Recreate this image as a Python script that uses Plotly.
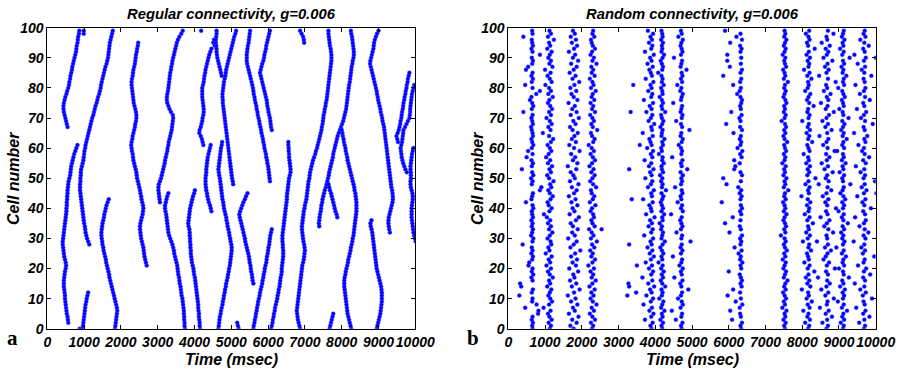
import plotly.graph_objects as go

# ---------------- DATA ----------------
# Spike times are given in units of 10 ms; each list holds one spike per
# consecutive cell, beginning at the listed start cell.
TIME_UNIT_MS = 10
x_ticks = list(range(0, 10001, 1000))
x_tick_labels = [str(v) for v in x_ticks]
y_ticks = list(range(0, 101, 10))

# Regular connectivity (panel a): travelling waves
reg_A = (2, [57,56,55,53,52,51,50,49,48,48,47,46,45,45,45,46,47,48,50,51,50,48,46,45,44,43,42,42,43,44,45,46,47,48,49,50,51,52,52,53,53,54,54,55,55,56,57,58,60,62,63,64,65,67,69,71,73,76,79,82])
reg_B = (67, [55,53,51,49,47,45,44,44,45,47,49,52,54,57,59,60,62,63,65,67,68,70,72,74,76,78,79,80,82,83,84,86,87])
reg_B2 = (98, [99,99])
reg_C = (0, [96,97,98,99,100,101,102,103,104,106,107,109,111])
reg_C2 = (0, [88])
reg_D = (28, [114,111,108,106,104,103,102,100,99,98,97,96,95,94,93,92,91,90,89,89,89,90,90,91,91,92,94,96,98,99,100,101,103,104,106,108,110,112,114,116,118,120,122,125,127,129,131,134,136,138,141,143,145,146,148,150,152,154,156,158,161,163,165,166,167,168,169,170,172,174,176,178])
reg_E = (0, [184,185,186,187,188,189,190,189,187,185,183,181,179,177,175,173,171,169,168,166,164,162,160,159,157,155,153,152,150,149,148,147,147,148,149,150,152,154,155,157,159,161,164,167])
reg_F = (21, [270,268,266,264,263,262,261,259,257,255,254,253,252,252,253,255,257,259,260,261,260,258,256,255,253,252,250,248,246,244,243,242,240,238,236,234,233,232,230,229,228,229,231,232,234,236,238,239,241,242,242,241,239,237,235,234,233,232,231,230,229,229,230,232,233,234,236,238,239,240,241,243,244,246,247])
reg_G_up = (42, [306,305,304,303,302,302,303,306,309,311,313,315,317,319,320,322,324,326,327,329,330,332,334,336,338,339,340,341,342,341,336,332,329,326,325,325,326,328,329,330,331,332,333,334,336,337,339,340,342,344,346,348,350,352,355,359,364,368])
reg_G_down = (0, [374,373,373,372,372,371,371,370,369,368,367,365,364,363,362,360,359,358,356,355,354,353,351,349,347,345,344,342,340,337,334,331,329,328,327,326,325,324,323,321,320,320,322,324,326,329])
reg_H = (0, [415,414,414,413,412,412,411,410,410,409,408,407,406,405,404,403,402,401,399,398,397,395,393,392,391,390,390,389,389,388,388,387,387,386,384,383,384,385,386,387,388,390,392,394,396,399,401])
reg_I = (99, [418])
reg_J = (61, [424,422,420,417,413,414,417,419,421,422,424,425,425,424,423,422,421,421,421,421,423,425,426,427,429,430,432,434,436,438,440,443,446])
reg_K = (39, [446,444,442,439,437,435,434,432,431,430,430,430,431,432,432,433,434,435,436,438,440,442,444])
reg_K2 = (94, [455,451,453])
reg_L1 = (84, [474,472,470,468,466,464,462,461,460,460,459,458,458,459,460,460])
reg_L2 = (48, [505,504,502,501,500,499,498,497,496,495,494,493,492,491,490,489,488,487,486,485,484,483,482,481,480,479,478,477,477,476,476,477,478,479,480,482,484,485,486,488,490,492,494,496,498,500,502,504,506,508,511,513])
reg_M = (0, [465,466,467,468,469,471,472,474,476,477,479,480,482,483,485,486,488,490,491,493,494,496,497,498,499,500,501,501,500,498,497,495,494,492,490,489,487,486,484,482,480,479,478,476,475,474,473,472,471,470,469,467,466,465,466,467,468,469,470,471,472,474,475])
reg_Z = (0, [520,518,516])
reg_N = (15, [560,558,557,556,554,553,552,550,549,548,546,544,542,540,538,537,535,533,531,529,527,525,523,522,524,527,530,533,537,540,544])
reg_O = (49, [605,604,603,602,601,600,598,597,595,594,592,590,589,587,586,584,582,581,579,577,576,574,572,571,569,568,566,564,563,561,560,559,557,555,553,551,549,547,545,543,542,542,542,543,544,545,547,548,549,550,551])
reg_P = (66, [610,608,607,606,605,603,601,600,598,597,596,594,592,590,588,586,584,582,580,578,580,582,584,587,589,590,592,594,595,597,599,601,603,605])
reg_Q = (0, [560,561,563,564,566,567,569,570,572,573,575,577,578,580,582,584,585,587,588,590,591,593,595,596,597,599,600,601,603,604,605,606,608,610])
reg_R = (0, [608,610,612,613,615,616,618,619,621,623,625,626,628,629,631,632,633,634,636,637,637,638,639,640,641,641,641,640,640,639,639,639,640,641,642,643,644,645,646,647,648,649,650,651,651,652,653,654,655,656,657,659,661,661,660,659,658,657,657,656,656,655,655])
reg_S = (0, [687,685,683,681,680,679,678,679,680,681,682,683,684,685,686,687,688,689,690,691,692,693,695,697,698,699,700,699,698,696,695,694,693,692,692,693,694,695,696,697,699,700,702,704,705,706,707,708,709,710,712,713,714,716,718,720,722,725,728,730,733,735,737,739,741,743,745,746,748,749,750,751,753,754,756,757,759,760,761,762,763,764,765,766,767,768,769,770,771,772,772,772,771,770,768,767,766,765,764,764])
reg_S2 = (95, [698,697,695,691,687])
reg_T_up = (67, [798,801,804,806,808,810,812,813,814,815,816,817,818,819,820,822,823,824,825,826,827,829,830,832,833,833,832,831,830,829,828,826,825])
reg_T_left = (34, [739,738,739,740,741,743,744,745,747,748,750,752,754,757,759,761,763,765,766,768,770,772,774,776,777,779,781,783,785,787,789,792,795])
reg_T_right = (0, [826,824,822,820,818,816,815,814,813,812,811,810,809,808,807,807,807,808,810,811,813,815,817,818,820,822,824,825,827,829,830,832,833,834,835,836,837,838,839,840,840,840,840,839,838,837,835,834,832,830,828,826,824,822,820,818,816,815,813,811,810,808,806,805,803,802,800])
reg_T_short = (37, [788,786,783,781,779,777,775,773,771,768,766,764])
reg_U = (0, [767,769,771,773,775,777])
reg_V = (0, [895,897,899,901,903,905,906,907,908,909,909,909,909,908,907,905,903,901,899,897,895,894,893,892,891,890,889,888,887,886,885,884,883,881,879,878,881])
reg_W = (32, [931,929,928,927,927,928,930,932,934,936,938,939,939,938,937,935,934,933,932,931,930,929,928,927,926,925,924,923,922,921,920,919,918,917,916,915,913,911,910,908,906,905,903,901,899,898,896,895,893,891,889,887,885,883,881,879,877,878,880,882,884,886,887,888,890,893,896,900])
reg_X1 = (62, [953,951,949,952,955,957,959,960,962,963,964,966,967,968,970,971,973,974,976,977,979,980,982,984])
reg_X2 = (52, [977,973,970,967,965,963,962,961,960,962,964,965,966,967,968,972,976,980,984,985,986,986,987,988,989,990,991,993,995,997])
reg_X4 = (29, [1001,999,997,995,994,993,992,991,990,990,990,990,991,992,993,993,992,990,988,987,987,988,988,988,987,987,988,989,990,991,993,995])

# Random connectivity (panel b): one spike per cell (cells 0..99) per burst column
rnd_c1 = [66,65,67,64,66,81,82,46,77,65,66,30,64,67,35,32,66,63,68,64,66,55,57,65,67,63,66,64,39,66,68,62,65,67,64,66,63,67,65,64,68,66,48,63,65,67,86,90,64,66,62,68,65,37,64,67,63,50,66,54,64,68,65,63,67,66,64,62,67,65,63,66,41,64,68,65,59,63,76,86,66,46,64,67,63,66,48,54,65,67,64,86,66,63,67,65,64,41,66,65]
rnd_c2 = [113,116,110,118,112,108,115,96,111,119,114,109,113,117,106,114,111,121,113,108,116,104,114,110,118,102,112,109,117,115,107,113,120,111,116,108,114,105,97,112,118,110,107,115,121,113,109,117,114,123,111,106,116,112,119,108,114,103,110,117,113,107,116,122,111,94,115,109,118,113,104,116,111,119,114,108,112,121,109,116,111,101,118,113,107,115,100,120,112,116,109,113,118,106,114,111,124,108,116,112]
rnd_c3 = [178,169,186,174,191,165,181,176,188,171,183,162,179,194,173,185,168,180,177,190,166,184,175,187,171,182,196,169,178,186,163,181,174,189,176,170,184,192,167,180,175,188,172,183,165,179,186,173,191,168,181,177,170,185,162,188,176,182,171,194,179,166,184,173,180,189,175,168,183,177,192,170,186,174,181,164,188,178,172,185,169,180,193,175,183,167,178,186,171,190,176,182,165,179,187,173,184,170,181,176]
rnd_c4 = [228,231,225,236,229,222,233,227,240,230,224,232,226,235,221,229,238,227,231,224,233,218,229,236,226,230,223,234,228,241,225,232,227,220,235,229,226,233,231,224,228,237,222,230,234,227,225,239,231,223,229,235,226,232,221,228,236,230,224,233,227,219,231,235,228,225,242,230,226,233,229,223,236,228,231,224,234,227,230,238,225,232,229,222,235,227,231,226,240,229,233,224,228,236,230,227,225,234,229,231]
rnd_c5 = [390,387,393,372,389,395,384,391,368,388,394,376,390,386,397,381,392,365,389,394,383,391,374,388,396,385,392,379,390,387,394,370,389,393,382,391,386,398,375,390,388,384,393,367,391,389,396,380,388,392,373,390,386,395,383,389,371,392,388,394,378,390,387,384,393,366,391,389,397,382,388,392,376,390,385,394,369,389,392,381,390,387,395,374,391,388,384,393,379,390,386,396,372,389,392,383,391,387,394,380]
rnd_c6 = [419,417,421,414,420,418,425,416,419,422,411,418,420,417,427,419,415,421,418,423,416,420,409,419,417,422,418,414,420,426,417,419,421,416,418,412,420,419,424,417,421,418,415,419,422,417,429,418,420,416,419,413,421,418,417,423,419,420,410,418,416,421,419,425,417,418,420,414,419,422,418,416,427,419,417,421,418,412,420,419,416,423,418,420,417,408,419,421,418,415,420,424,417,419,418,421,416,420,419,417]
rnd_c7 = [472,470,474,456,471,473,445,469,475,472,462,470,473,490,471,468,474,452,472,470,475,466,471,473,448,470,474,469,472,496,471,473,458,470,474,471,468,472,443,475,470,473,461,471,469,474,472,454,470,473,471,475,469,487,472,470,474,446,471,473,470,464,472,475,469,471,493,473,470,457,472,474,469,471,473,449,470,472,475,468,471,460,473,470,474,472,485,469,471,473,451,470,474,472,469,471,475,463,472,470]
rnd_c8 = [634,632,636,609,633,631,604,630,637,619,633,597,631,612,635,632,636,633,630,600,634,632,637,631,633,627,635,616,632,634,631,636,602,633,630,590,632,611,634,631,636,633,581,632,635,630,634,626,594,633,585,636,632,615,618,630,615,635,631,637,624,632,634,630,633,613,636,631,593,632,629,635,607,633,631,634,636,632,623,630,633,612,631,634,585,632,636,603,633,596,634,596,632,635,631,604,636,621,632,590]
rnd_c9 = [753,751,755,749,754,752,757,746,753,750,756,752,748,755,751,754,760,750,753,756,749,752,755,747,754,751,758,753,750,755,752,742,754,751,756,753,749,752,757,750,754,752,748,755,751,753,762,750,754,752,757,749,753,751,755,746,752,754,750,756,753,751,759,752,749,754,751,756,753,744,752,755,750,753,751,757,754,749,752,755,751,753,761,750,754,752,748,756,753,751,754,747,752,755,750,753,757,751,754,752]
rnd_c10 = [816,819,808,821,814,817,803,820,815,826,812,818,816,799,822,814,819,810,817,833,815,820,806,818,816,813,824,817,819,802,815,821,811,818,816,829,814,820,807,817,819,813,822,815,798,818,816,820,809,817,836,814,819,815,821,811,818,816,804,820,817,814,827,816,819,812,821,815,818,800,817,820,814,816,831,819,813,817,822,808,815,818,816,825,814,820,805,817,819,815,821,812,818,834,816,813,820,817,810,819]
rnd_c11 = [866,870,855,868,881,864,872,848,867,869,886,863,871,852,866,875,868,843,870,865,889,867,873,858,864,869,878,862,870,840,868,866,884,871,860,867,874,850,869,865,892,868,863,871,856,866,879,869,845,872,864,868,883,861,870,853,867,874,865,888,869,857,866,871,847,868,880,863,870,855,866,873,886,864,869,851,871,867,877,859,868,865,891,870,846,866,872,862,869,882,858,867,871,864,875,853,868,866,885,870]
rnd_c12 = [911,913,905,914,909,912,922,908,913,897,911,914,910,916,903,912,909,927,913,911,900,914,910,912,919,908,913,893,911,915,909,912,906,914,910,924,912,908,913,899,911,914,909,917,912,904,910,913,931,911,909,914,902,912,910,918,908,913,911,895,914,909,912,921,910,913,906,911,915,909,926,912,910,901,913,911,908,916,912,909,898,914,911,913,920,910,912,907,914,911,929,909,913,903,912,910,915,908,911,913]
rnd_c13 = [968,971,955,969,983,966,972,947,970,967,990,965,973,958,969,943,971,966,985,968,974,952,967,970,996,965,971,961,969,940,972,967,980,970,956,968,973,944,971,966,987,969,964,972,950,968,975,962,970,998,967,971,959,969,946,973,966,982,970,963,968,953,972,969,977,941,970,967,992,971,960,968,974,949,969,966,984,971,957,968,972,945,970,967,988,969,962,971,951,968,973,942,970,966,981,969,958,972,967,970]
rnd_iso_cells = [33, 81, 72, 61, 53, 43, 28, 15, 14, 11, 21, 12, 90, 45]
rnd_iso_times = [254, 340, 333, 358, 329, 336, 329, 327, 329, 324, 350, 348, 1000, 1002]

reg_segments = [reg_A, reg_B, reg_B2, reg_C, reg_C2, reg_D, reg_E, reg_F, reg_G_up, reg_G_down,
                reg_H, reg_I, reg_J, reg_K, reg_K2, reg_L1, reg_L2, reg_M, reg_Z, reg_N, reg_O,
                reg_P, reg_Q, reg_R, reg_S, reg_S2, reg_T_up, reg_T_left, reg_T_right, reg_T_short,
                reg_U, reg_V, reg_W, reg_X1, reg_X2, reg_X4]
rnd_columns = [rnd_c1, rnd_c2, rnd_c3, rnd_c4, rnd_c5, rnd_c6, rnd_c7, rnd_c8, rnd_c9,
               rnd_c10, rnd_c11, rnd_c12, rnd_c13]

# ---------------- BUILD ----------------
reg_x, reg_y = [], []
for start, times in reg_segments:
    for i, t in enumerate(times):
        reg_x.append(t * TIME_UNIT_MS)
        reg_y.append(start + i)

rnd_x, rnd_y = [], []
for col in rnd_columns:
    for cell, t in enumerate(col):
        rnd_x.append(t * TIME_UNIT_MS)
        rnd_y.append(cell)
for cell, t in zip(rnd_iso_cells, rnd_iso_times):
    rnd_x.append(t * TIME_UNIT_MS)
    rnd_y.append(cell)

W, H = 905, 372
BLUE = "#0000ff"
marker = dict(color=BLUE, size=4.0, line=dict(width=0.4, color="#4040ff"))

fig = go.Figure()
fig.add_trace(go.Scatter(x=reg_x, y=reg_y, mode="markers", marker=marker,
                         xaxis="x", yaxis="y", showlegend=False, hoverinfo="skip"))
fig.add_trace(go.Scatter(x=rnd_x, y=rnd_y, mode="markers", marker=marker,
                         xaxis="x2", yaxis="y2", showlegend=False, hoverinfo="skip"))

tickfont = dict(family="Liberation Sans", size=14, color="black", weight="bold", style="italic")
axis_common = dict(showline=True, linecolor="black", linewidth=1, mirror="allticks",
                   ticks="inside", ticklen=4, tickwidth=1, tickcolor="black", tickangle=0,
                   showgrid=False, zeroline=False, tickfont=tickfont, automargin=False)

yd = [(H - 328.7) / H, (H - 27.7) / H]
fig.update_layout(
    width=W, height=H, margin=dict(l=0, r=0, t=0, b=0, autoexpand=False),
    paper_bgcolor="white", plot_bgcolor="white",
    xaxis=dict(domain=[47.3 / W, 415.3 / W], range=[0, 10000], tickvals=x_ticks,
               ticktext=x_tick_labels, anchor="y", **axis_common),
    yaxis=dict(domain=yd, range=[0, 100], tickvals=y_ticks, anchor="x", **axis_common),
    xaxis2=dict(domain=[508.3 / W, 875.7 / W], range=[0, 10000], tickvals=x_ticks,
                ticktext=x_tick_labels, anchor="y2", **axis_common),
    yaxis2=dict(domain=yd, range=[0, 100], tickvals=y_ticks, anchor="x2", **axis_common),
)

def px_ann(text, x, y, size, angle=0, family="Liberation Sans", italic=True):
    fig.add_annotation(text=text, x=x / W, y=1 - y / H, xref="paper", yref="paper",
                       xanchor="center", yanchor="middle", showarrow=False, textangle=angle,
                       font=dict(family=family, size=size, color="black", weight="bold",
                                 style="italic" if italic else "normal"))

px_ann("Regular connectivity, g=0.006", 231.3, 14, 14.8)
px_ann("Random connectivity, g=0.006", 692, 14, 14.8)
px_ann("Time (msec)", 231.3, 359, 16)
px_ann("Time (msec)", 692, 359, 16)
px_ann("Cell number", 13, 179, 16, angle=-90)
px_ann("Cell number", 477, 179, 16, angle=-90)
px_ann("a", 12.5, 338, 21, family="Liberation Serif", italic=False)
px_ann("b", 472.5, 338, 21, family="Liberation Serif", italic=False)

fig.write_html("out.html", config={"displayModeBar": False})
